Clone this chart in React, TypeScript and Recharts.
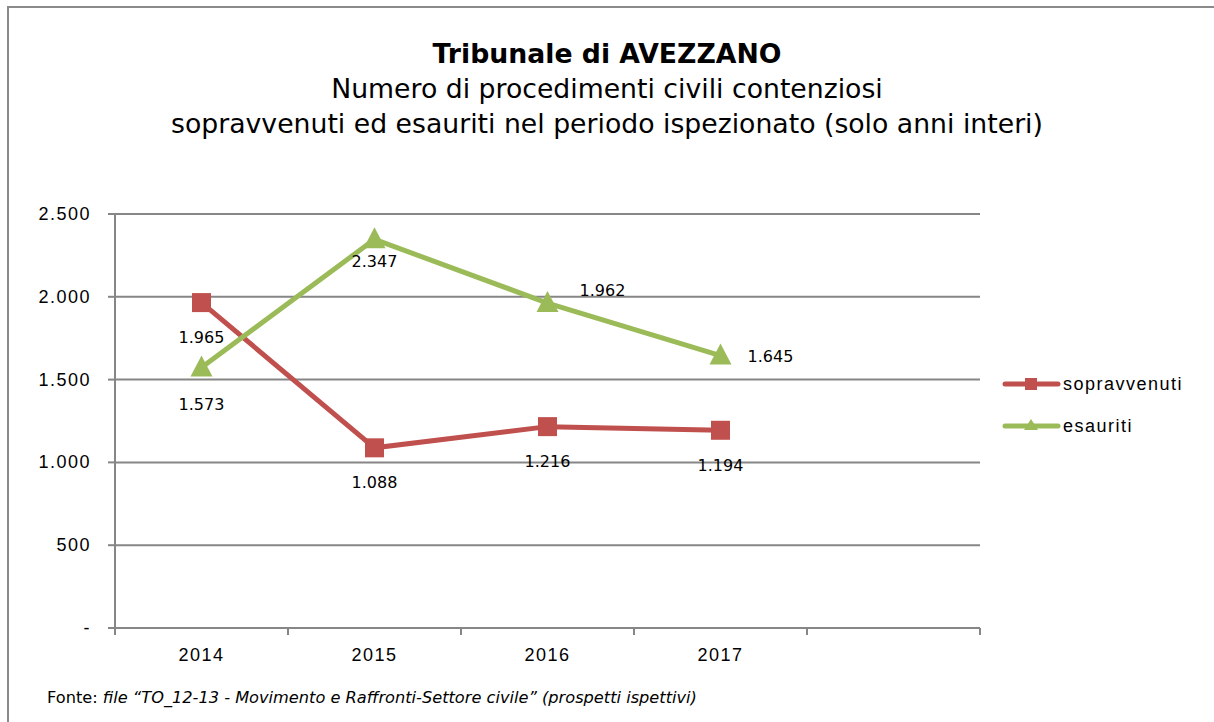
import { LineChart, Line, XAxis, YAxis, CartesianGrid } from 'recharts'

const years = ['2014', '2015', '2016', '2017', '']
const sopravvenuti = [1965, 1088, 1216, 1194, null]
const esauriti = [1573, 2347, 1962, 1645, null]
const yTicks = [0, 500, 1000, 1500, 2000, 2500]

const RED = '#C0504D'
const GREEN = '#9BBB59'
const GRID = '#868686'
const SANS = "'Liberation Sans', Arial, sans-serif"
const VERDANA = "'DejaVu Sans', Verdana, sans-serif"

const data = years.map((year, i) => ({
  year,
  sopravvenuti: sopravvenuti[i],
  esauriti: esauriti[i],
}))

// where each data label sits relative to its point (dx, dy)
const sopLabelPos = [[0, 35], [0, 35], [0, 35], [0, 35]]
const esaLabelPos = [[0, 37], [0, 22], [55, -13], [50, 1]]

const fmt = (v: number) => (v === 0 ? '-' : String(v).replace(/\B(?=(\d{3})+(?!\d))/g, '.'))

const makeLabel = (pos: number[][]) => (p: any) => {
  if (p.value == null || p.index == null || !pos[p.index]) return null
  const [dx, dy] = pos[p.index]
  return (
    <text
      key={`lbl-${p.index}`}
      x={p.x + dx}
      y={p.y + dy}
      textAnchor="middle"
      dominantBaseline="central"
      fontFamily={VERDANA}
      fontSize={16}
      fill="#000"
    >
      {fmt(p.value)}
    </text>
  )
}

const SquareDot = (p: any) => {
  if (p.cy == null || p.value == null) return <g key={p.key} />
  return <rect key={p.key} x={p.cx - 9.5} y={p.cy - 9.5} width={19} height={19} fill={RED} />
}

const TriangleDot = (p: any) => {
  if (p.cy == null || p.value == null) return <g key={p.key} />
  const { cx, cy } = p
  return (
    <polygon
      key={p.key}
      points={`${cx},${cy - 12} ${cx - 11},${cy + 9} ${cx + 11},${cy + 9}`}
      fill={GREEN}
    />
  )
}

const XTick = (p: any) => {
  const { x, y, payload, index } = p
  const half = payload.offset || 86.5
  const last = index === years.length - 1
  return (
    <g>
      <line x1={x - half} y1={y} x2={x - half} y2={y + 7} stroke={GRID} strokeWidth={2} />
      {last && <line x1={x + half} y1={y} x2={x + half} y2={y + 7} stroke={GRID} strokeWidth={2} />}
      <text
        x={x}
        y={y + 27}
        textAnchor="middle"
        dominantBaseline="central"
        fontFamily={SANS}
        fontSize={18}
        style={{ letterSpacing: 1.5 }}
        fill="#000"
      >
        {payload.value}
      </text>
    </g>
  )
}

const YTick = (p: any) => {
  const { x, y, payload } = p
  return (
    <text
      x={x}
      y={y}
      textAnchor="end"
      dominantBaseline="central"
      fontFamily={SANS}
      fontSize={18}
      style={{ letterSpacing: 1.5 }}
      fill="#000"
    >
      {fmt(payload.value)}
    </text>
  )
}

const legendItems = [
  { name: 'sopravvenuti', color: RED, shape: 'square' },
  { name: 'esauriti', color: GREEN, shape: 'triangle' },
]

const LegendBox = () => (
  <div style={{ fontFamily: SANS, fontSize: 18, letterSpacing: 1.5, color: '#000' }}>
    {legendItems.map((it) => (
      <div key={it.name} style={{ display: 'flex', alignItems: 'center', height: 42 }}>
        <svg width={60} height={20} style={{ marginRight: 2 }}>
          <line x1={4} y1={10} x2={57} y2={10} stroke={it.color} strokeWidth={5} strokeLinecap="round" />
          {it.shape === 'square' ? (
            <rect x={24} y={4} width={12} height={12} fill={it.color} />
          ) : (
            <polygon points="30,3 23,14 37,14" fill={it.color} />
          )}
        </svg>
        <span>{it.name}</span>
      </div>
    ))}
  </div>
)

export default function App() {
  return (
    <div
      style={{
        position: 'fixed',
        left: 0,
        top: 0,
        width: 1214,
        height: 722,
        overflow: 'hidden',
        background: '#fff',
      }}
    >
      <div
        style={{
          position: 'absolute',
          left: 7,
          top: 6,
          width: 1400,
          height: 900,
          border: '2px solid #8a8a8a',
        }}
      />
      <div
        style={{
          position: 'absolute',
          left: 0,
          top: 36,
          width: 1214,
          textAlign: 'center',
          fontFamily: VERDANA,
          fontSize: 26.7,
          lineHeight: '35px',
          color: '#000',
        }}
      >
        <div style={{ fontWeight: 'bold' }}>Tribunale di AVEZZANO</div>
        <div>Numero di procedimenti civili contenziosi</div>
        <div>sopravvenuti ed esauriti nel periodo ispezionato (solo anni interi)</div>
      </div>

      <div style={{ position: 'absolute', left: 0, top: 0 }}>
        <LineChart
          width={1214}
          height={722}
          data={data}
          margin={{ top: 214, right: 234, bottom: 34, left: 15 }}
        >
          <CartesianGrid vertical={false} stroke={GRID} strokeWidth={2} />
          <XAxis
            dataKey="year"
            scale="band"
            height={60}
            axisLine={{ stroke: GRID, strokeWidth: 2 }}
            tickSize={0}
            tickMargin={0}
            tick={<XTick />}
            interval={0}
          />
          <YAxis
            width={100}
            domain={[0, 2500]}
            ticks={yTicks}
            interval={0}
            axisLine={{ stroke: GRID, strokeWidth: 2 }}
            tickLine={{ stroke: GRID, strokeWidth: 2 }}
            tickSize={7}
            tickMargin={17}
            tick={<YTick />}
          />
          <Line
            type="linear"
            dataKey="sopravvenuti"
            stroke={RED}
            strokeWidth={5}
            dot={SquareDot}
            activeDot={false}
            label={makeLabel(sopLabelPos)}
            isAnimationActive={false}
          />
          <Line
            type="linear"
            dataKey="esauriti"
            stroke={GREEN}
            strokeWidth={5}
            dot={TriangleDot}
            activeDot={false}
            label={makeLabel(esaLabelPos)}
            isAnimationActive={false}
          />
        </LineChart>
      </div>

      <div style={{ position: 'absolute', left: 1001, top: 363 }}>
        <LegendBox />
      </div>

      <div
        style={{
          position: 'absolute',
          left: 47,
          top: 689,
          fontFamily: VERDANA,
          fontSize: 16.2,
          lineHeight: '18px',
          color: '#000',
          whiteSpace: 'nowrap',
        }}
      >
        Fonte: <i>file “TO_12-13 - Movimento e Raffronti-Settore civile” (prospetti ispettivi)</i>
      </div>
    </div>
  )
}
